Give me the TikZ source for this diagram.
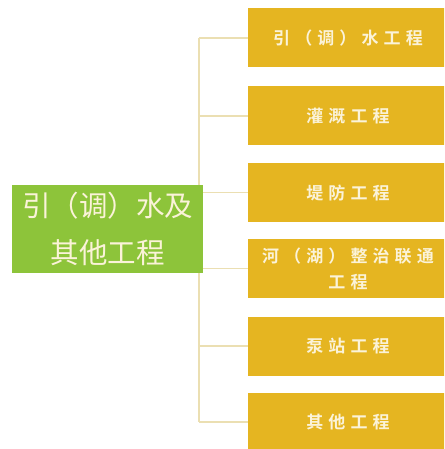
\documentclass[tikz,border=0pt]{standalone}
\usepackage{fontspec}
\usepackage{tikz}
\usetikzlibrary{positioning,backgrounds,calc}
\newfontfamily\cjk{Noto Sans CJK SC}
\newfontfamily\cjkwide[LetterSpace=30,BoldFont={Noto Sans CJK SC Bold}]{Noto Sans CJK SC}
\definecolor{rootgreen}{HTML}{8DC43A}
\definecolor{boxgold}{HTML}{E5B521}
\definecolor{linetan}{HTML}{EBDFB2}
\definecolor{textcream}{HTML}{FBF3D9}
\tikzset{
  rootbox/.style={fill=rootgreen, minimum width=191pt, minimum height=88pt, inner sep=0pt,
    text=textcream, align=center, font=\cjk\fontsize{28.5}{47}\selectfont},
  itembox/.style={fill=boxgold, minimum width=200pt, minimum height=59pt, inner sep=0pt,
    text=textcream, align=center, font=\cjkwide\bfseries\fontsize{17}{26}\selectfont},
  branch/.style={draw=linetan, line width=1.5pt}
}
\begin{document}
\begin{tikzpicture}[x=1pt,y=-1pt]
    \useasboundingbox (0,0) rectangle (444,449);
    \clip (0,0) rectangle (444,449);
    \node[rootbox] (root) at (107.5, 229) {引（调）水及\\其他工程};
    \node[itembox] (b1) at (348, 38) {引（调）水工程};
    \node[itembox] (b2) at (348, 116) {灌溉工程};
    \node[itembox] (b3) at (348, 192.5) {堤防工程};
    \node[itembox] (b4) at (348, 268.5) {河（湖）整治联通\\工程};
    \node[itembox] (b5) at (348, 346) {泵站工程};
    \node[itembox] (b6) at (348, 422) {其他工程};
    \coordinate (trunk) at (199, 229);
    \begin{scope}[on background layer]
      \draw[branch] (b1.west -| trunk) -- (b6.west -| trunk);
      \foreach \b in {b1,b2,b3,b4,b5,b6}
        \draw[branch] (\b.west) -- (\b.west -| trunk);
    \end{scope}
  \end{tikzpicture}
\end{document}
